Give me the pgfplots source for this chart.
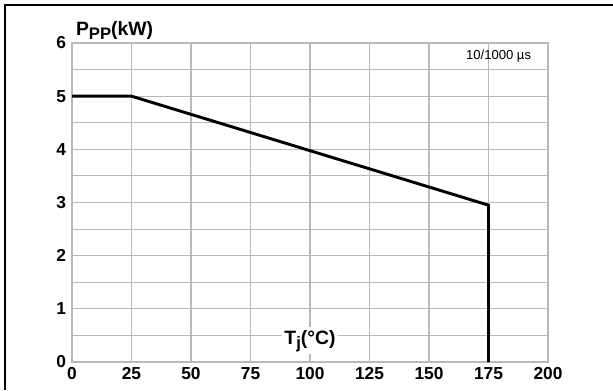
\documentclass[border=0pt]{standalone}
\usepackage{pgfplots}
\pgfplotsset{compat=1.18}
\usepackage{fontspec}
\setmainfont{Liberation Sans}

\newcommand{\lbl}{\fontsize{14.5}{16}\selectfont\bfseries}
\newcommand{\sub}[1]{\raisebox{-3pt}{\fontsize{12.5}{13}\selectfont #1}}

\begin{document}
\begin{tikzpicture}
  % page area (613 x 390 units of 0.75pt) and the frame along the top and left edges
  \useasboundingbox (0pt,0pt) rectangle (459.75pt,292.5pt);
  \draw[line width=1.5pt] (3.75pt,0pt) -- (3.75pt,288.75pt) -- (459.75pt,288.75pt);

  \begin{axis}[
    at={(54pt,21pt)}, anchor=south west,
    width=357pt, height=239.25pt, scale only axis,
    xmin=0, xmax=200, ymin=0, ymax=6,
    xtick={0,25,...,200}, ytick={0,1,...,6},
    minor ytick={0.5,1.5,...,5.5},
    grid=both,
    major grid style={gray!55, line width=0.8pt},
    minor grid style={gray!55, line width=0.8pt},
    axis line style={gray!55, line width=0.8pt},
    major tick length=0pt, minor tick length=0pt,
    tick label style={font=\fontsize{13}{14}\selectfont\bfseries},
    /pgf/number format/assume math mode=true,
    xticklabel style={yshift=-0.5pt},
    yticklabel style={xshift=-1pt},
    clip=false,
  ]
    \addplot[black, line width=2.2pt, line join=miter] coordinates {
      (0,5) (25,5) (175,2.95) (175,0)
    };

    \node[anchor=base west, font=\lbl, inner sep=0pt]
      at (rel axis cs:0.008,1.022) {P\sub{PP}(kW)};
    \node[fill=white, font=\lbl, inner sep=2pt]
      at (axis cs:100,0.4) {T\sub{j}(°C)};
    \node[anchor=east, font=\fontsize{9.8}{11}\selectfont, inner sep=0pt]
      at (axis cs:193,5.76) {10/1000 µs};
  \end{axis}
\end{tikzpicture}
\end{document}
